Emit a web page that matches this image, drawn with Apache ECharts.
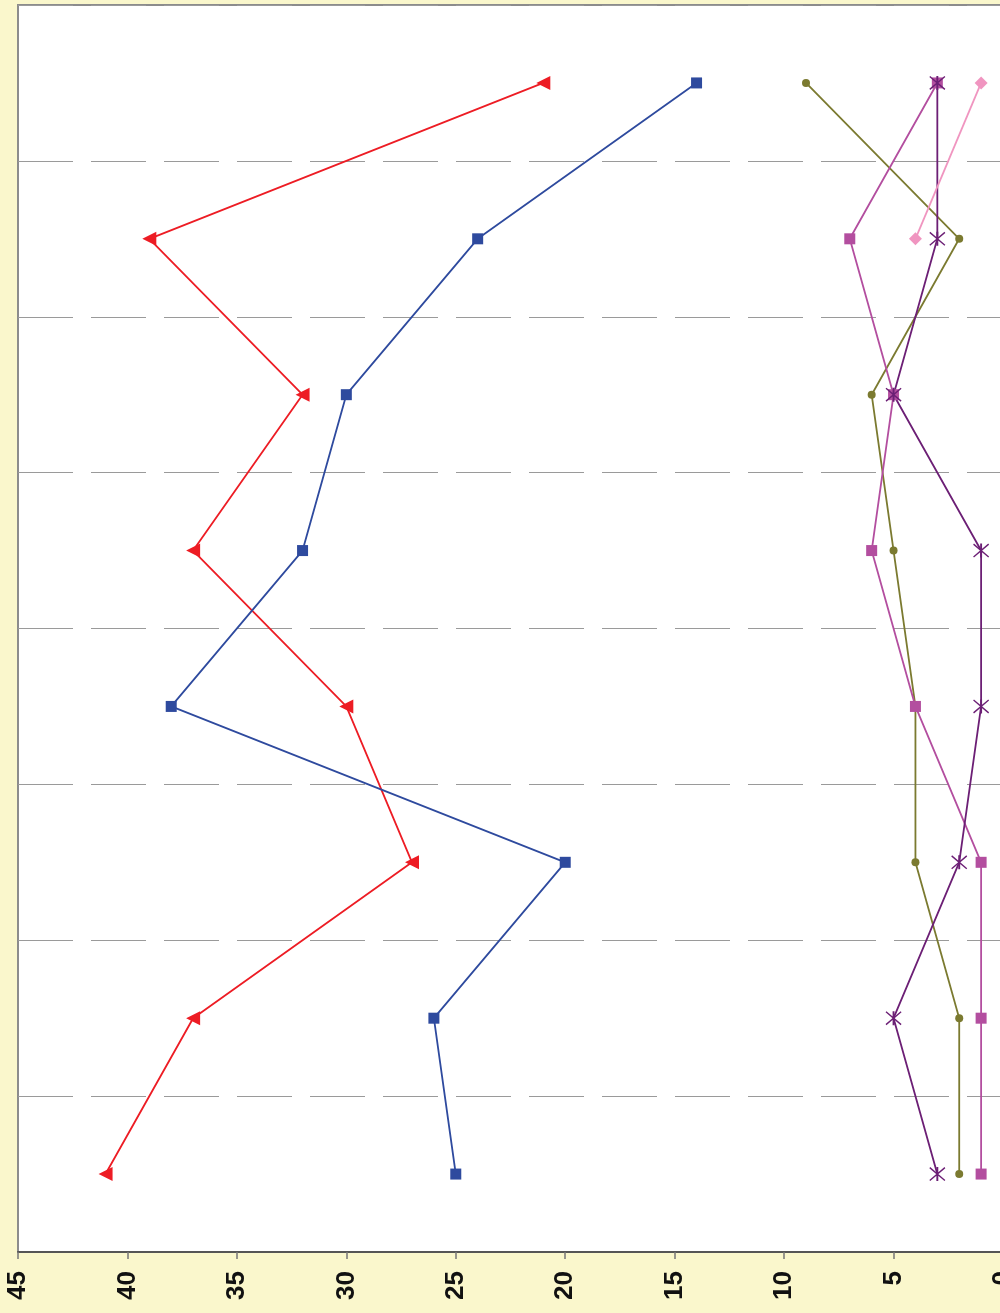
<!DOCTYPE html>
<html>
<head>
<meta charset="utf-8">
<script src="https://cdn.jsdelivr.net/npm/echarts@6/dist/echarts.min.js"></script>
<style>
  html, body { margin: 0; padding: 0; background: #FAF7CC; }
  #chart { width: 1000px; height: 1313px; }
</style>
</head>
<body>
<div id="chart"></div>
<script>
// categories run top to bottom
const categories = ['1', '2', '3', '4', '5', '6', '7', '8'];
const redValues = [21, 39, 32, 37, 30, 27, 37, 41];
const blueValues = [14, 24, 30, 32, 38, 20, 26, 25];
const oliveValues = [9, 2, 6, 5, 4, 4, 2, 2];
const magentaValues = [3, 7, 5, 6, 4, 1, 1, 1];
const purpleValues = [3, 3, 5, 1, 1, 2, 5, 3];
const pinkValues = [1, 4, null, null, null, null, null, null];
const valueTicks = { min: 0, max: 45, interval: 5 };

// asterisk drawn as three thin bars
const asterisk = 'path://M8.8,0L11.2,0L11.2,16L8.8,16Z M0,1.3L1.1,0L20,14.7L18.9,16Z M18.9,0L20,1.3L1.1,16L0,14.7Z';

const myChart = echarts.init(document.getElementById('chart'));

function line(name, data, color, symbol, size, extra) {
  return Object.assign({
    name: name,
    type: 'line',
    data: data,
    symbol: symbol,
    symbolSize: size,
    showSymbol: true,
    lineStyle: { color: color, width: 1.8 },
    itemStyle: { color: color, borderWidth: 0 },
    emphasis: { disabled: true }
  }, extra || {});
}

const option = {
  backgroundColor: '#FAF7CC',
  animation: false,
  grid: {
    left: 18,
    top: 5,
    width: 985,
    height: 1247,
    outerBoundsMode: 'none',
    containLabel: false,
    show: true,
    backgroundColor: '#ffffff',
    borderColor: '#8c8c8c',
    borderWidth: 2
  },
  xAxis: {
    type: 'value',
    min: valueTicks.min,
    max: valueTicks.max,
    interval: valueTicks.interval,
    inverse: true,
    position: 'bottom',
    splitLine: { show: false },
    axisLine: { show: true, lineStyle: { color: '#555555', width: 2 } },
    axisTick: { show: true, length: 7, lineStyle: { color: '#777777', width: 1.5 } },
    axisLabel: {
      show: true,
      rotate: 90,
      margin: 19,
      color: '#111111',
      fontSize: 26,
      fontWeight: 'bold',
      fontFamily: 'Liberation Sans, Arial, sans-serif'
    }
  },
  yAxis: {
    type: 'category',
    data: categories,
    inverse: true,
    boundaryGap: true,
    axisLine: { show: false },
    axisTick: { show: false },
    axisLabel: { show: false },
    splitLine: {
      show: true,
      lineStyle: { color: '#9a9a9a', width: 1, type: [55, 18] }
    }
  },
  series: [
    line('red', redValues, '#ED1C24', 'triangle', 14, { symbolRotate: 90 }),
    line('blue', blueValues, '#2E4A9E', 'rect', 11),
    line('olive', oliveValues, '#7B7A30', 'circle', 8),
    line('magenta', magentaValues, '#B34E9F', 'rect', 11),
    line('purple', purpleValues, '#6C1F75', asterisk, [16, 14]),
    line('pink', pinkValues, '#F095C0', 'diamond', 13)
  ]
};

myChart.setOption(option);
</script>
</body>
</html>
